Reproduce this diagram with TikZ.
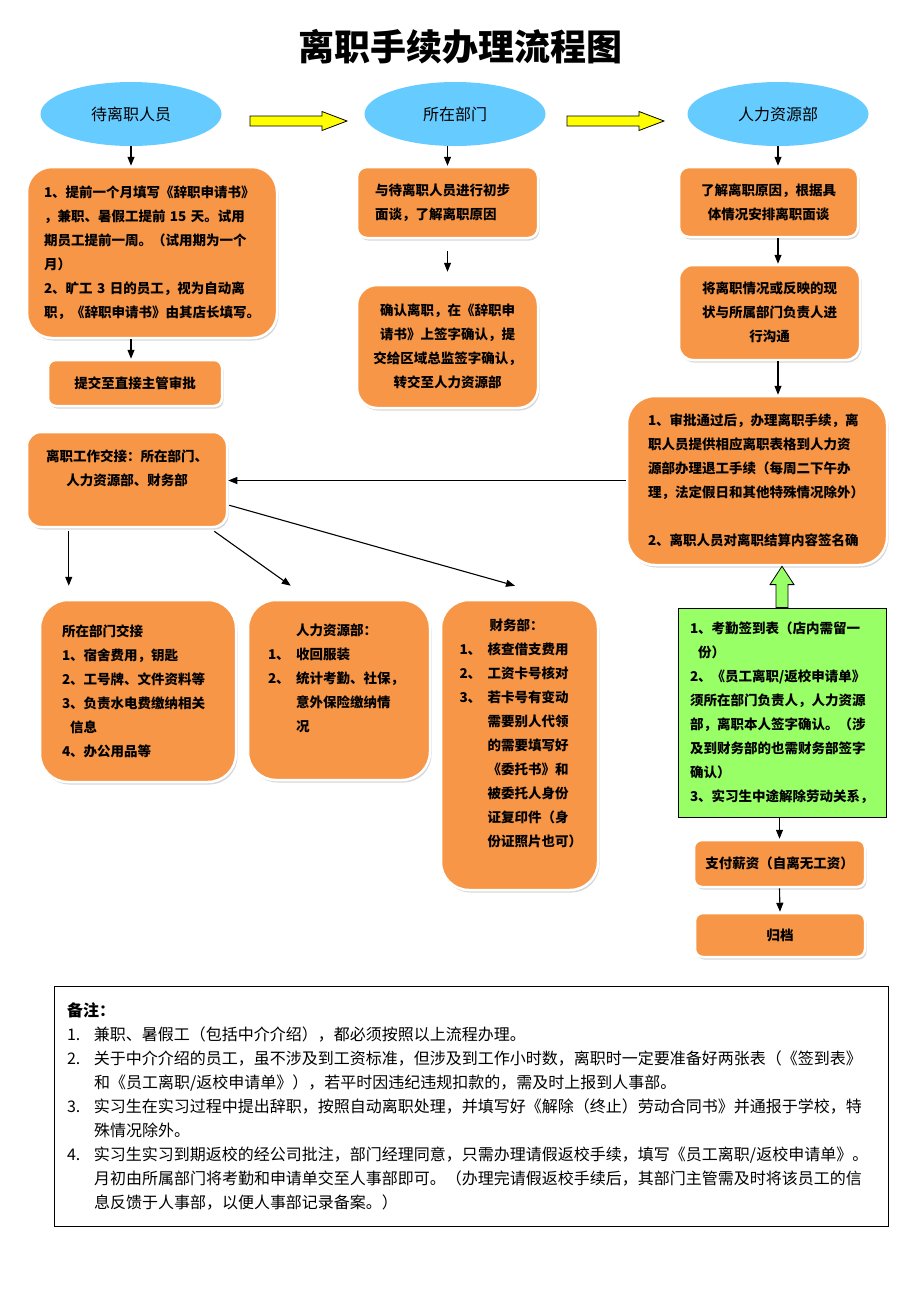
\documentclass[tikz,border=0pt]{standalone}
\usepackage{fontspec}
\setmainfont{Noto Sans CJK SC}
\usetikzlibrary{calc, positioning}
\usetikzlibrary{arrows.meta}
\usetikzlibrary{shadows}
\usetikzlibrary{shapes.geometric}
\definecolor{headblue}{HTML}{66CCFF}
\definecolor{cardorange}{HTML}{F79646}
\definecolor{notegreen}{HTML}{99FF66}
\definecolor{arrowyellow}{HTML}{FFFF00}
\def\lw{1.1pt}
\def\gap{12pt}
\tikzset{
    dept/.style = {
        ellipse, fill=headblue, minimum width=181pt, minimum height=64pt, font=\fontsize{16}{19}\selectfont
    },
    card/.style = {
        rectangle, draw=white, line width=2.5pt, fill=cardorange, rounded corners=#1, inner sep=0pt,
        drop shadow={shadow xshift=1.5pt, shadow yshift=-2.5pt, fill=black!30},
        font=\bfseries\fontsize{13.5}{24}\selectfont
    },
    card/.default = 10pt,
    greenbox/.style = {
        rectangle, draw=black, line width=0.8pt, fill=notegreen, inner sep=0pt,
        font=\bfseries\fontsize{13.5}{24}\selectfont
    },
    memo/.style = {
        rectangle, draw=black, line width=0.8pt, inner sep=0pt, font=\fontsize{16}{24}\selectfont
    },
    link/.style = {-{Triangle[width=7pt,length=9pt]}, line width=\lw},
    blockarrow/.style = {draw=black, line width=0.8pt, line join=miter}
}
\begin{document}
\begin{tikzpicture}[x=1pt, y=-1pt]
    \path[fill=white] (0,0) rectangle (920,1302);
    \useasboundingbox (0,0) rectangle (920,1302);
    % Title
    \node[font=\bfseries\fontsize{36}{40}\selectfont] (title) at (460,47) {离职手续办理流程图};
    % Place the heads
    \node[dept] (e1) at (131,114) {待离职人员};
    \node[dept] (e2) at (455,114) {所在部门};
    \node[dept] (e3) at (778,114) {人力资源部};
    \foreach \x in {250, 567}{
        \draw[blockarrow, fill=arrowyellow] (\x,116) -- ++(72,0) -- ++(0,-4.5) -- ++(25,9.5)
            -- ++(-25,9.5) -- ++(0,-4.5) -- ++(-72,0) -- cycle;
    }
    % Left column
    \node[card=25pt, minimum width=250pt, minimum height=171pt, align=left, text width=216pt] (s1) at (152,252.5) {%
        1、提前一个月填写《辞职申请书》\\
        ，兼职、暑假工提前 15 天。试用\\
        期员工提前一周。（试用期为一个\\
        月）\\
        2、旷工 3 日的员工，视为自动离\\
        职，《辞职申请书》由其店长填写。};
    \node[card=8pt, minimum width=174pt, minimum height=46pt] (s2) at (135,383) {提交至直接主管审批};
    % Middle column
    \node[card=10pt, minimum width=181pt, minimum height=71pt, align=left, text width=145pt] (d1) at (447.5,202.5) {%
        与待离职人员进行初步\\
        面谈，了解离职原因};
    \node[card=20pt, minimum width=181pt, minimum height=123pt, align=center] (d2) at (447.5,346.5) {%
        确认离职，在《辞职申\\
        请书》上签字确认，提\\
        交给区域总监签字确认，\\
        转交至人力资源部};
    % Right column
    \node[card=10pt, minimum width=179pt, minimum height=70pt, align=center] (h1) at (768.5,202) {%
        了解离职原因，根据具\\
        体情况安排离职面谈};
    \node[card=14pt, minimum width=181pt, minimum height=95pt, align=center] (h2) at (769.5,312.5) {%
        将离职情况或反映的现\\
        状与所属部门负责人进\\
        行沟通};
    \node[card=28pt, minimum width=260pt, minimum height=169pt, align=left, text width=218pt] (h3) at (757,480.5) {%
        1、审批通过后，办理离职手续，离\\
        职人员提供相应离职表格到人力资\\
        源部办理退工手续（每周二下午办\\
        理，法定假日和其他特殊情况除外）\\[24pt]
        2、离职人员对离职结算内容签名确};
    \node[greenbox, minimum width=208pt, minimum height=209pt, align=left, text width=184pt] (gr) at (782,712.5) {%
        1、考勤签到表（店内需留一\\
        \hspace*{8pt}份）\\
        2、《员工离职/返校申请单》\\
        须所在部门负责人，人力资源\\
        部，离职本人签字确认。（涉\\
        及到财务部的也需财务部签字\\
        确认）\\
        3、实习生中途解除劳动关系，};
    \draw[blockarrow, fill=notegreen] ($(gr.north)+(-6,0)$) -- ++(0,-23) -- ++(-6,0) -- (gr.north |- h3.south)
        -- ($(gr.north)+(12,-23)$) -- ++(-6,0) -- ($(gr.north)+(6,0)$) -- cycle;
    \node[card=8pt, minimum width=171pt, minimum height=47pt] (pay) at (779.5,863.5) {支付薪资（自离无工资）};
    \node[card=8pt, minimum width=170pt, minimum height=44pt] (arch) at (780,935) {归档};
    % Handover
    \node[card=14pt, minimum width=200pt, minimum height=95pt, align=center] (hand) at (127,479.5) {%
        离职工作交接：所在部门、\\
        人力资源部、财务部\\
        \mbox{}};
    \node[card=28pt, minimum width=196pt, minimum height=182pt, align=left, text width=152pt] (ba) at (138,691) {%
        所在部门交接\\
        1、宿舍费用，钥匙\\
        2、工号牌、文件资料等\\
        3、负责水电费缴纳相关\\
        \hspace*{8pt}信息\\
        4、办公用品等};
    \node[card=28pt, minimum width=182pt, minimum height=180pt, align=left, text width=142pt] (bb) at (339,690) {%
        \hspace*{28pt}人力资源部：\\
        \makebox[28pt][l]{1、}收回服装\\
        \makebox[28pt][l]{2、}统计考勤、社保，\\
        \hspace*{28pt}意外保险缴纳情\\
        \hspace*{28pt}况\\
        \mbox{}};
    \node[card=28pt, minimum width=157pt, minimum height=290pt, align=left, text width=120pt] (bc) at (519.5,745) {%
        \hspace*{30pt}财务部：\\
        \makebox[28pt][l]{1、}核查借支费用\\
        \makebox[28pt][l]{2、}工资卡号核对\\
        \makebox[28pt][l]{3、}若卡号有变动\\
        \hspace*{28pt}需要别人代领\\
        \hspace*{28pt}的需要填写好\\
        \hspace*{28pt}《委托书》和\\
        \hspace*{28pt}被委托人身份\\
        \hspace*{28pt}证复印件（身\\
        \hspace*{28pt}份证照片也可）\\
        \mbox{}};
    % Notes
    \node[memo, minimum width=834pt, minimum height=240pt, align=left, text width=808pt] (memo) at (471,1106) {%
        \textbf{备注：}\\
        \makebox[27pt][l]{1.}兼职、暑假工（包括中介介绍），都必须按照以上流程办理。\\
        \makebox[27pt][l]{2.}关于中介介绍的员工，虽不涉及到工资标准，但涉及到工作小时数，离职时一定要准备好两张表（《签到表》\\
        \hspace*{27pt}和《员工离职/返校申请单》），若平时因违纪违规扣款的，需及时上报到人事部。\\
        \makebox[27pt][l]{3.}实习生在实习过程中提出辞职，按照自动离职处理，并填写好《解除（终止）劳动合同书》并通报于学校，特\\
        \hspace*{27pt}殊情况除外。\\
        \makebox[27pt][l]{4.}实习生实习到期返校的经公司批注，部门经理同意，只需办理请假返校手续，填写《员工离职/返校申请单》。\\
        \hspace*{27pt}月初由所属部门将考勤和申请单交至人事部即可。（办理完请假返校手续后，其部门主管需及时将该员工的信\\
        \hspace*{27pt}息反馈于人事部，以便人事部记录备案。）};
    % Connect the blocks
    \draw[link] (e1.south) -- (e1.south |- s1.north);
    \draw[link] (e1.south |- s1.south) -- (e1.south |- s2.north);
    \draw[link] (d1.north |- e2.south) -- (d1.north);
    \draw[link] ([yshift=-\gap]d1.south) -- ([yshift=\gap]d2.north);
    \foreach \a/\b in {e3/h1, h1/h2, h2/h3}{
        \draw[link] (e3.south |- \a.south) -- (e3.south |- \b.north);
    }
    \draw[link] (h3.west) -- (h3.west -| hand.east);
    \draw[link] ($(hand.south west)+(43,3)$) -- ($(ba.north west)+(30,-13)$);
    \draw[link] ($(hand.south east)+(-14,3)$) -- ($(bb.north west)+(44,-13)$);
    \draw[link] ($(hand.south east)+(1,-23)$) -- ($(bc.north)+(-4.5,-13)$);
    \draw[link] (pay.north |- gr.south) -- (pay.north);
    \draw[link] (pay.south) -- (arch.north);
\end{tikzpicture}
\end{document}
